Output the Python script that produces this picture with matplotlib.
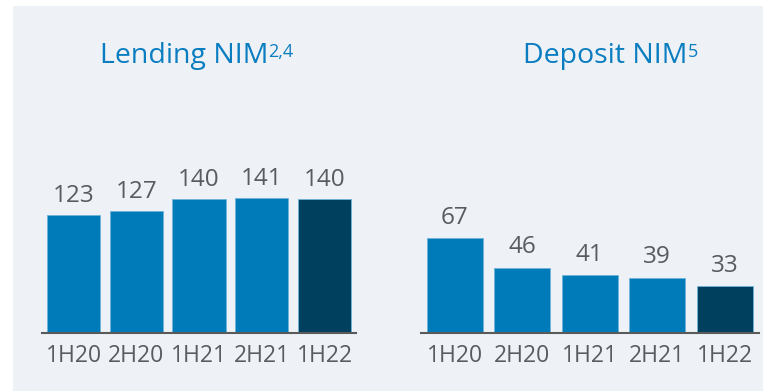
import matplotlib.pyplot as plt
from matplotlib.patches import Rectangle
from matplotlib.text import Annotation

# half-year periods and margins in basis points
periods = ['1H20', '2H20', '1H21', '2H21', '1H22']
lending_nim = [123, 127, 140, 141, 140]
deposit_nim = [67, 46, 41, 39, 33]

BG = '#eef2f6'
BLUE = '#007bba'
NAVY = '#00405f'
EDGE = '#6fb3da'
GREY = '#585c60'
TITLE_BLUE = '#0a7dc0'
FONT = 'Open Sans'

plt.rcParams['font.family'] = [FONT, 'DejaVu Sans']

fig = plt.figure(figsize=(7.63, 3.91), dpi=100)
fig.patch.set_facecolor('white')
fig.patches.append(Rectangle((13 / 763, 0), 1 - 13 / 763, 1 - 6 / 391,
                             transform=fig.transFigure, facecolor=BG,
                             edgecolor='none', zorder=-10))


def draw_panel(rect, values, ymax, width, xlim, offset):
    ax = fig.add_axes(rect)
    ax.set_facecolor('none')
    colors = [BLUE] * (len(values) - 1) + [NAVY]
    x = list(range(len(values)))
    bars = ax.bar(x, values, width=width, color=colors, edgecolor=EDGE,
                  linewidth=0.6)
    for b, v in zip(bars, values):
        ax.annotate(str(v), (b.get_x() + b.get_width() / 2, v),
                    xytext=(0, offset), textcoords='offset points',
                    ha='center', va='bottom', fontsize=17.5, color=GREY)
    ax.set_xlim(*xlim)
    ax.set_ylim(0, ymax)
    ax.set_xticks(x)
    ax.set_xticklabels(periods, fontsize=16.5, color=GREY)
    ax.tick_params(axis='x', length=0, pad=8)
    ax.set_yticks([])
    for s in ['top', 'right', 'left']:
        ax.spines[s].set_visible(False)
    ax.spines['bottom'].set_color('#5a5a5a')
    ax.spines['bottom'].set_linewidth(1.5)
    return ax


draw_panel([42 / 763, 58 / 391, 314 / 763, 233 / 391], lending_nim, 243,
           0.845, (-0.502, 4.502), 5)
draw_panel([421 / 763, 58 / 391, 338 / 763, 233 / 391], deposit_nim, 164.3,
           0.83, (-0.504, 4.51), 6)


def title(x, y, main, sup):
    t = fig.text(x, y, main, ha='left', va='baseline', fontsize=20.5,
                 color=TITLE_BLUE)
    fig.add_artist(Annotation(sup, xy=(1, 1), xycoords=t, xytext=(0, -1),
                              textcoords='offset points', ha='left', va='top',
                              fontsize=13, color=TITLE_BLUE))


title(100 / 763, 1 - 63 / 391, 'Lending NIM', '2,4')
title(523 / 763, 1 - 63 / 391, 'Deposit NIM', '5')

fig.savefig('out.png', dpi=100, facecolor=fig.get_facecolor())
